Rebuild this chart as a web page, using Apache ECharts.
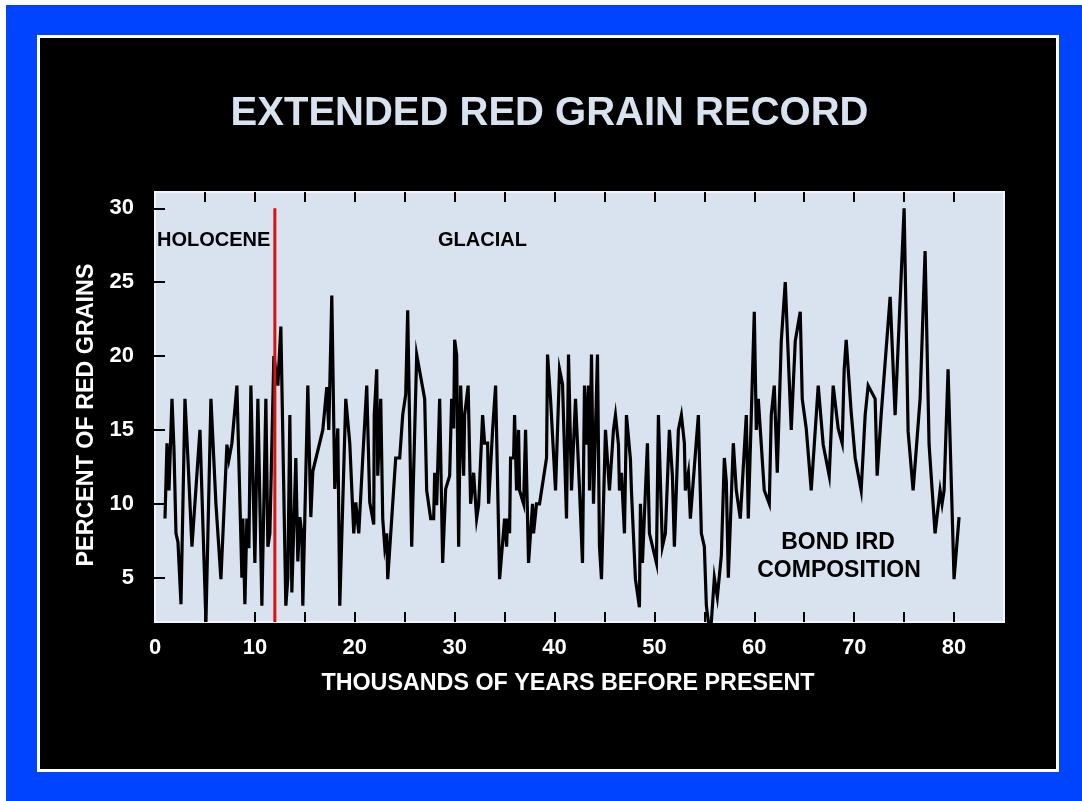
<!DOCTYPE html>
<html>
<head>
<meta charset="utf-8">
<title>Extended Red Grain Record</title>
<script src="https://cdn.jsdelivr.net/npm/echarts@6/dist/echarts.min.js"></script>
<style>
  html, body { margin: 0; padding: 0; background: #ffffff; }
  #outer { position: absolute; left: 6px; top: 5px; width: 1076px; height: 796px; background: #0044ff; }
  #panel { position: absolute; left: 37px; top: 35px; width: 1016px; height: 731px; background: #000; border: 3px solid #ffffff; }
  #chart { position: absolute; left: 0; top: 0; width: 1082px; height: 801px; }
</style>
</head>
<body>
<div id="outer"></div>
<div id="panel"></div>
<div id="chart"></div>
<script>
// Age of each sample, thousands of years before present
const years = [
  1.0, 1.2, 1.4, 1.7, 1.9, 2.1, 2.3, 2.6, 3.0, 3.3, 3.7, 4.5, 5.1, 5.6, 6.1, 6.6,
  7.2, 7.4, 7.7, 8.2, 8.7, 8.8, 9.0, 9.2, 9.4, 9.6, 10.0, 10.3, 10.7, 11.1, 11.3, 11.5,
  11.9, 12.3, 12.6, 13.1, 13.3, 13.5, 13.7, 14.1, 14.3, 14.5, 14.7, 14.8, 15.3, 15.6, 15.8, 16.8,
  17.2, 17.4, 17.7, 18.0, 18.3, 18.5, 18.7, 19.1, 19.5, 19.9, 20.1, 20.4, 20.8, 21.2, 21.5, 21.9,
  21.95, 22.2, 22.3, 22.6, 22.8, 23.0, 23.2, 23.3, 24.1, 24.5, 24.8, 25.1, 25.3, 25.7, 26.2, 27.0,
  27.2, 27.6, 27.9, 28.0, 28.2, 28.5, 28.8, 29.1, 29.5, 29.7, 29.9, 30.0, 30.2, 30.4, 30.6, 30.9,
  31.0, 31.35, 31.6, 31.9, 32.2, 32.4, 32.8, 33.0, 33.3, 33.4, 33.8, 34.1, 34.5, 35.0, 35.2, 35.3,
  35.5, 35.6, 35.9, 36.0, 36.2, 36.4, 36.5, 36.9, 37.1, 37.4, 37.8, 37.9, 38.2, 38.5, 39.2, 39.3,
  39.6, 40.1, 40.5, 40.8, 41.2, 41.4, 41.7, 42.1, 42.5, 42.8, 43.0, 43.2, 43.4, 43.5, 43.7, 43.9,
  44.3, 44.5, 44.7, 45.1, 45.5, 45.7, 45.9, 46.1, 46.4, 46.5, 46.7, 47.0, 47.2, 47.6, 47.7, 48.1,
  48.5, 48.6, 48.8, 49.3, 49.5, 50.2, 50.4, 50.8, 51.1, 51.5, 51.8, 52.0, 52.4, 52.7, 53.0, 53.1,
  53.4, 53.6, 54.4, 54.7, 55.0, 55.2, 55.4, 55.7, 56.0, 56.3, 56.7, 57.0, 57.2, 57.4, 57.9, 58.2,
  58.6, 59.2, 59.4, 60.0, 60.2, 60.4, 61.0, 61.5, 61.7, 62.0, 62.3, 62.7, 63.1, 63.7, 64.1, 64.6,
  64.8, 65.2, 65.7, 66.4, 66.9, 67.5, 67.9, 68.4, 68.8, 69.0, 69.2, 69.7, 70.1, 70.7, 71.1, 71.4,
  72.1, 72.3, 72.7, 73.6, 74.1, 75.0, 75.4, 75.9, 76.6, 77.1, 77.5, 78.1, 78.6, 78.8, 79.0, 79.4,
  80.0, 80.5
];

// Percent of red (hematite-stained) grains in each sample
const redGrainPct = [
  9.0, 14.1, 10.9, 17.1, 13.7, 8.0, 7.4, 3.2, 17.1, 13.0, 7.1, 15.0, 2.0, 17.1, 10.0, 4.9,
  14.0, 13.0, 14.1, 18.0, 5.0, 9.0, 3.2, 9.0, 7.0, 18.0, 6.0, 17.1, 3.1, 17.1, 7.1, 8.0,
  20.0, 18.0, 22.0, 3.1, 5.0, 16.0, 4.0, 13.1, 6.1, 9.1, 8.0, 3.1, 18.0, 9.1, 12.2, 15.0,
  17.9, 15.0, 24.1, 11.0, 15.1, 3.1, 3.1, 17.1, 14.1, 8.0, 10.1, 8.0, 13.1, 18.0, 10.1, 8.6,
  16.0, 19.1, 11.9, 17.1, 9.0, 7.1, 8.0, 4.9, 13.1, 13.1, 16.0, 17.4, 23.1, 7.1, 20.1, 17.1,
  10.9, 9.0, 9.0, 12.1, 9.9, 17.1, 6.0, 11.0, 11.9, 17.1, 15.1, 21.1, 20.1, 7.1, 18.0, 11.9,
  16.0, 18.0, 10.0, 12.1, 9.0, 9.9, 16.0, 14.1, 14.1, 10.0, 15.0, 18.0, 4.9, 9.0, 7.1, 9.0,
  8.0, 13.1, 13.1, 16.0, 10.9, 15.0, 10.9, 10.0, 15.0, 6.0, 10.0, 8.0, 10.0, 10.0, 13.1, 20.1,
  17.1, 10.9, 19.1, 18.1, 9.0, 20.1, 10.9, 17.1, 11.0, 6.0, 18.0, 14.0, 18.0, 10.9, 20.1, 10.0,
  20.1, 7.1, 4.9, 15.0, 10.9, 10.9, 15.0, 16.0, 14.0, 10.9, 12.1, 8.0, 16.0, 13.0, 10.9, 4.9,
  3.0, 10.0, 6.0, 14.1, 8.0, 6.0, 16.0, 7.1, 8.0, 15.0, 11.9, 7.1, 15.0, 16.0, 14.1, 10.9,
  12.1, 9.0, 16.0, 8.0, 7.1, 3.1, 2.0, 2.0, 5.0, 3.7, 6.5, 13.1, 11.5, 5.0, 14.1, 10.9,
  9.0, 16.0, 9.0, 23.0, 15.0, 17.1, 10.9, 10.0, 16.0, 18.0, 12.1, 21.0, 25.0, 15.0, 21.0, 23.0,
  17.1, 15.1, 10.9, 18.0, 14.0, 11.9, 18.0, 15.1, 14.1, 19.1, 21.1, 16.2, 13.1, 10.9, 16.0, 18.0,
  17.1, 11.9, 16.0, 24.0, 16.0, 30.0, 14.9, 10.9, 17.1, 27.1, 14.0, 8.0, 10.9, 10.0, 10.9, 19.1,
  4.9, 9.1
];

// Holocene / glacial boundary, thousands of years before present
const holoceneBoundary = 12;
const boundarySpan = [2, 30];

// Axis tick positions and labelled values
const xTickValues = [5, 10, 15, 20, 25, 30, 35, 40, 45, 50, 55, 60, 65, 70, 75, 80];
const xTickLabels = [0, 10, 20, 30, 40, 50, 60, 70, 80];
const yTickValues = [5, 10, 15, 20, 25, 30];
const yTickLabels = [5, 10, 15, 20, 25, 30];

const FONT = '"Liberation Sans", Arial, Helvetica, sans-serif';

const recordPoints = years.map((x, i) => [x, redGrainPct[i]]);
const boundaryPoints = boundarySpan.map(v => [holoceneBoundary, v]);

const tickStyle = { show: true, inside: true, length: 10, lineStyle: { color: '#000', width: 2 } };

function xAxisDef(pos, showLabels) {
  return {
    type: 'value', position: pos, min: 0, max: 85,
    axisLine: { show: false },
    splitLine: { show: false },
    axisTick: Object.assign({ customValues: xTickValues }, tickStyle),
    axisLabel: showLabels ? {
      customValues: xTickLabels, color: '#ffffff', fontFamily: FONT,
      fontWeight: 'bold', fontSize: 22, margin: 15
    } : { show: false }
  };
}

function yAxisDef(pos, showLabels) {
  return {
    type: 'value', position: pos, min: 2, max: 31.1,
    axisLine: { show: false },
    splitLine: { show: false },
    axisTick: Object.assign({ customValues: yTickValues }, tickStyle),
    axisLabel: showLabels ? {
      customValues: yTickLabels, color: '#ffffff', fontFamily: FONT,
      fontWeight: 'bold', fontSize: 22, margin: 21
    } : { show: false }
  };
}

const chart = echarts.init(document.getElementById('chart'), null, { renderer: 'canvas' });

chart.setOption({
  backgroundColor: 'transparent',
  animation: false,
  grid: {
    left: 155, top: 192, width: 849, height: 430,
    show: true, backgroundColor: '#d8e3ef', borderColor: '#f2f6fa', borderWidth: 2
  },
  xAxis: [xAxisDef('bottom', true), xAxisDef('top', false)],
  yAxis: [yAxisDef('left', true), yAxisDef('right', false)],
  series: [
    {
      type: 'line', data: recordPoints, xAxisIndex: 0, yAxisIndex: 0,
      showSymbol: false, symbol: 'none',
      lineStyle: { color: '#000000', width: 3.2, join: 'miter' },
      z: 3
    },
    {
      type: 'line', data: boundaryPoints, xAxisIndex: 0, yAxisIndex: 0,
      showSymbol: false, symbol: 'none',
      lineStyle: { color: '#dd1010', width: 3 },
      z: 4
    }
  ],
  graphic: [
    {
      type: 'text', x: 549.5, y: 114,
      style: { text: 'EXTENDED RED GRAIN RECORD', fill: '#d8e3ef', font: 'bold 40px ' + FONT,
               align: 'center', verticalAlign: 'middle' }
    },
    {
      type: 'text', x: 568, y: 684,
      style: { text: 'THOUSANDS OF YEARS BEFORE PRESENT', fill: '#ffffff', font: 'bold 23.3px ' + FONT,
               align: 'center', verticalAlign: 'middle' }
    },
    {
      type: 'text', x: 87, y: 415, rotation: Math.PI / 2,
      style: { text: 'PERCENT OF RED GRAINS', fill: '#ffffff', font: 'bold 23.3px ' + FONT,
               align: 'center', verticalAlign: 'middle' }
    },
    {
      type: 'text', x: 157, y: 240, z: 10,
      style: { text: 'HOLOCENE', fill: '#000000', font: 'bold 20px ' + FONT,
               align: 'left', verticalAlign: 'middle' }
    },
    {
      type: 'text', x: 438, y: 240, z: 10,
      style: { text: 'GLACIAL', fill: '#000000', font: 'bold 20px ' + FONT,
               align: 'left', verticalAlign: 'middle' }
    },
    {
      type: 'text', x: 838, y: 543, z: 10,
      style: { text: 'BOND IRD', fill: '#000000', font: 'bold 23px ' + FONT,
               align: 'center', verticalAlign: 'middle' }
    },
    {
      type: 'text', x: 839, y: 571, z: 10,
      style: { text: 'COMPOSITION', fill: '#000000', font: 'bold 23px ' + FONT,
               align: 'center', verticalAlign: 'middle' }
    }
  ]
});
</script>
</body>
</html>
